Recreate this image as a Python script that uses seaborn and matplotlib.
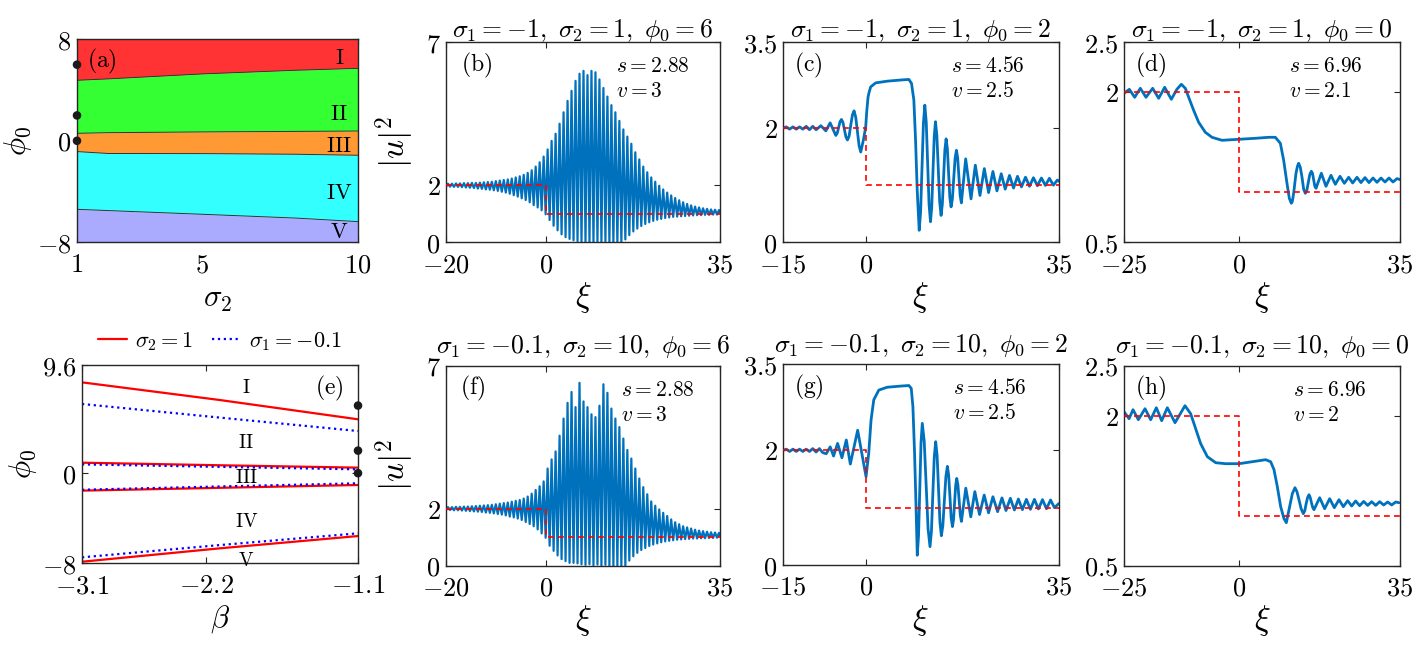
import numpy as np
import pandas as pd
import matplotlib
matplotlib.use("Agg")
import matplotlib.pyplot as plt
import seaborn as sns

# ---------------- data ----------------
# (a) phase diagram boundaries vs sigma2
a_sigma2 = [1, 2, 5, 8, 10]
a_b1 = [4.77, 4.88, 5.27, 5.56, 5.71]      # I / II
a_b2 = [0.59, 0.64, 0.70, 0.74, 0.77]      # II / III
a_b3 = [-0.85, -1.00, -1.01, -1.06, -1.14]  # III / IV
a_b4 = [-5.40, -5.50, -5.79, -6.09, -6.37]  # IV / V
a_dots_phi = [6, 2, 0]
region_names = ["I", "II", "III", "IV", "V"]
a_label_phi = [6.56, 2.15, -0.41, -4.11, -7.18]

# (e) boundaries vs beta
e_beta = [-3.1, -2.1, -1.1]
e_red = [[8.06, 6.49, 4.78], [0.93, 0.70, 0.49], [-1.55, -1.30, -1.05], [-7.86, -6.67, -5.58]]
e_blue = [[6.14, 4.93, 3.74], [0.78, 0.56, 0.34], [-1.47, -1.18, -0.90], [-7.47, -6.38, -5.34]]
e_dots_phi = [6, 2, 0]
e_label_phi = [7.53, 2.65, -0.40, -4.30, -7.77]

# (b),(f) dense oscillation extrema
bf_xi = [-20.0, -19.6, -19.2, -18.8, -18.4, -18.0, -17.6, -17.2, -16.8, -16.4,
         -16.0, -15.6, -15.2, -14.8, -14.4, -14.0, -13.6, -13.2, -12.8, -12.4,
         -12.0, -11.6, -11.2, -10.8, -10.4, -10.0, -9.6, -9.2, -8.8, -8.4,
         -8.0, -7.6, -7.2, -6.8, -6.4, -6.0, -5.6, -5.2, -4.8, -4.4,
         -4.0, -3.6, -3.2, -2.8, -2.4, -2.0, -1.6, -1.2, -0.8, -0.4,
         0.0, 0.4, 0.8, 1.2, 1.6, 2.0, 2.4, 2.8, 3.2, 3.6,
         4.0, 4.4, 4.8, 5.2, 5.6, 6.0, 6.4, 6.8, 7.2, 7.6,
         8.0, 8.4, 8.8, 9.2, 9.6, 10.0, 10.4, 10.8, 11.2, 11.6,
         12.0, 12.4, 12.8, 13.2, 13.6, 14.0, 14.4, 14.8, 15.2, 15.6,
         16.0, 16.4, 16.8, 17.2, 17.6, 18.0, 18.4, 18.8, 19.2, 19.6,
         20.0, 20.4, 20.8, 21.2, 21.6, 22.0, 22.4, 22.8, 23.2, 23.6,
         24.0, 24.4, 24.8, 25.2, 25.6, 26.0, 26.4, 26.8, 27.2, 27.6,
         28.0, 28.4, 28.8, 29.2, 29.6, 30.0, 30.4, 30.8, 31.2, 31.6,
         32.0, 32.4, 32.8, 33.2, 33.6, 34.0, 34.4, 34.8, 35.0]
b_u = [1.95, 2.05, 1.95, 2.05, 1.94, 2.06, 1.94, 2.06, 1.93, 2.07,
       1.92, 2.07, 1.91, 2.08, 1.90, 2.08, 1.88, 2.09, 1.87, 2.10,
       1.85, 2.11, 1.84, 2.12, 1.82, 2.14, 1.80, 2.16, 1.77, 2.18,
       1.74, 2.20, 1.70, 2.23, 1.65, 2.27, 1.60, 2.31, 1.54, 2.36,
       1.48, 2.43, 1.40, 2.52, 1.30, 2.65, 1.22, 2.80, 1.12, 3.00,
       0.98, 3.25, 0.78, 3.55, 0.58, 3.80, 0.42, 4.15, 0.28, 4.55,
       0.18, 4.95, 0.12, 5.30, 0.07, 5.65, 0.04, 5.90, 0.02, 6.00,
       0.00, 5.85, 0.01, 6.00, 0.00, 5.95, 0.02, 5.70, 0.01, 5.40,
       0.03, 5.10, 0.00, 4.80, 0.00, 4.55, 0.00, 4.25, 0.02, 3.95,
       0.10, 3.70, 0.25, 3.45, 0.38, 3.15, 0.48, 2.90, 0.57, 2.65,
       0.64, 2.45, 0.70, 2.27, 0.75, 2.12, 0.79, 1.98, 0.82, 1.85,
       0.85, 1.74, 0.87, 1.64, 0.89, 1.55, 0.90, 1.47, 0.91, 1.40,
       0.92, 1.34, 0.93, 1.29, 0.94, 1.25, 0.95, 1.22, 0.95, 1.19,
       0.96, 1.17, 0.96, 1.15, 0.97, 1.14, 0.97, 1.13, 1.02]
f_u = [1.95, 2.05, 1.95, 2.05, 1.94, 2.06, 1.94, 2.06, 1.93, 2.07,
       1.92, 2.07, 1.91, 2.08, 1.90, 2.09, 1.89, 2.10, 1.88, 2.11,
       1.86, 2.12, 1.85, 2.13, 1.83, 2.15, 1.81, 2.17, 1.79, 2.19,
       1.76, 2.21, 1.72, 2.24, 1.69, 2.27, 1.65, 2.30, 1.60, 2.35,
       1.53, 2.42, 1.46, 2.52, 1.38, 2.65, 1.27, 2.78, 1.13, 2.95,
       0.98, 3.40, 0.70, 3.72, 0.52, 4.00, 0.36, 4.55, 0.23, 5.15,
       0.16, 5.70, 0.10, 6.08, 0.10, 5.55, 0.08, 6.40, 0.05, 5.75,
       0.03, 5.55, 0.05, 5.30, 0.02, 5.20, 0.04, 5.60, 0.01, 6.35,
       0.03, 6.05, 0.00, 5.50, 0.00, 5.15, 0.00, 4.85, 0.00, 4.45,
       0.00, 4.05, 0.18, 3.75, 0.33, 3.40, 0.45, 3.05, 0.55, 2.75,
       0.62, 2.50, 0.69, 2.25, 0.74, 2.10, 0.78, 1.97, 0.82, 1.85,
       0.85, 1.74, 0.87, 1.62, 0.89, 1.52, 0.91, 1.45, 0.92, 1.38,
       0.93, 1.34, 0.94, 1.30, 0.95, 1.26, 0.95, 1.23, 0.96, 1.21,
       0.96, 1.19, 0.97, 1.17, 0.97, 1.16, 0.98, 1.15, 1.05]

# (c)
c_xi = [-15.0, -14.4, -13.8, -13.2, -12.6, -12.0, -11.4, -10.8, -10.2, -9.6, -9.0,
        -8.13, -7.23, -6.45, -5.42, -5.165, -4.91, -4.655, -4.40, -4.13, -3.855,
        -3.58, -3.31, -3.01, -2.71, -2.41, -2.11, -1.81, -1.505, -1.20, -0.90,
        -0.42, 0.0, 0.18, 0.42, 0.6, 0.90, 1.81, 3.92, 6.33, 7.83, 8.31, 8.73,
        9.04, 9.34, 9.70, 9.955, 10.21, 10.465, 10.72, 10.98, 11.235, 11.49,
        11.75, 11.975, 12.2, 12.425, 12.65, 12.905, 13.16, 13.415, 13.67, 13.90,
        14.125, 14.35, 14.58, 14.805, 15.03, 15.255, 15.48, 15.72, 15.965, 16.21,
        16.45, 16.675, 16.9, 17.125, 17.35, 18.13, 19.10,
        19.88, 20.72, 21.51, 22.29, 23.07, 23.80, 24.58, 25.30, 26.08, 26.81,
        27.53, 28.25, 28.98, 29.70, 30.42, 31.14, 31.87, 32.59, 33.31, 34.04,
        34.76, 35.0]
c_u = [2.00, 2.02, 1.98, 2.02, 1.98, 2.02, 1.98, 2.03, 1.97, 2.03, 1.97,
       2.04, 1.95, 2.09, 1.87, 1.91, 2.01, 2.11, 2.15, 2.10, 1.97,
       1.84, 1.79, 1.86, 2.05, 2.23, 2.30, 2.19, 1.94, 1.69, 1.58,
       1.79, 2.02, 2.28, 2.54, 2.62, 2.72, 2.79, 2.82, 2.84, 2.85, 2.78, 2.49,
       1.79, 0.91, 0.21, 0.53, 1.31, 2.08, 2.40, 2.10, 1.38, 0.66,
       0.36, 0.62, 1.24, 1.85, 2.11, 1.87, 1.29, 0.71, 0.47, 0.67,
       1.14, 1.61, 1.81, 1.64, 1.22, 0.79, 0.62, 0.76, 1.12, 1.47,
       1.61, 1.48, 1.15, 0.82, 0.69, 1.46, 0.76,
       1.35, 0.82, 1.29, 0.87, 1.24, 0.90, 1.20, 0.93, 1.17, 0.95,
       1.155, 0.97, 1.14, 0.98, 1.13, 0.99, 1.125, 0.995, 1.12, 1.00,
       1.09, 1.07]

# (d)
d_xi = [-25.0, -23.84, -22.68, -21.45, -20.22, -18.77, -17.46, -16.16, -14.71,
        -13.5, -12.54, -11.67, -10.94, -9.86, -8.77, -7.32, -5.87, -3.70, -0.07,
        3.55, 6.45, 7.90, 8.99, 9.71, 10.43, 10.94, 11.38, 11.6, 11.88, 12.39,
        12.7, 12.97, 13.33, 13.70, 14.06, 14.42, 14.75, 15.07, 15.4, 15.72,
        15.98, 16.23, 16.49, 16.74, 17.90, 18.91, 20.0, 20.94, 21.96, 22.90,
        23.84, 24.71, 25.65, 26.52, 27.39, 28.26, 29.13, 30.0, 30.87, 31.74,
        32.61, 33.48, 34.35, 35.0]
d_u = [1.99, 2.03, 1.95, 2.04, 1.95, 2.04, 1.94, 2.05, 1.93,
       2.03, 2.08, 2.04, 1.95, 1.82, 1.70, 1.60, 1.55, 1.52, 1.53,
       1.54, 1.55, 1.55, 1.49, 1.32, 1.09, 0.94, 0.89, 0.91, 0.99, 1.19,
       1.26, 1.29, 1.25, 1.15, 1.03, 0.99, 1.02, 1.10, 1.18, 1.21,
       1.19, 1.125, 1.06, 1.04, 1.19, 1.06, 1.17, 1.08, 1.16, 1.09,
       1.15, 1.093, 1.15, 1.097, 1.147, 1.097, 1.143, 1.10, 1.143, 1.103,
       1.143, 1.103, 1.137, 1.127]

# (g)
g_xi = [-15.0, -14.4, -13.8, -13.2, -12.6, -12.0, -11.4, -10.8, -10.2, -9.6, -9.0,
        -8.4, -7.8, -7.16, -6.44, -5.83, -5.10, -4.31, -3.52, -2.79, -1.46, 0.06,
        0.55, 0.97, 1.46, 2.37, 3.89, 6.31, 7.83, 8.26, 8.56, 8.86, 9.11, 9.35,
        9.58, 9.805, 10.03, 10.26, 10.61, 10.96, 11.31, 11.66, 11.92, 12.175,
        12.43, 12.69, 12.95, 13.205, 13.46, 13.72, 13.99, 14.265, 14.54, 14.81,
        15.04, 15.27, 15.5, 15.73, 15.925, 16.12, 16.315, 16.51, 16.72, 16.935,
        17.15, 17.36, 18.15, 19.06,
        19.79, 20.64, 21.49, 22.28, 23.07, 23.92, 24.71, 25.44, 26.23, 26.96,
        27.69, 28.42, 29.14, 29.87, 30.60, 31.33, 32.06, 32.79, 33.52, 34.24, 35.0]
g_u = [2.00, 2.02, 1.98, 2.02, 1.98, 2.02, 1.98, 2.02, 1.98, 2.03, 1.97,
       2.03, 1.96, 1.94, 2.06, 1.90, 2.12, 1.87, 2.18, 1.76, 2.35, 1.54,
       1.95, 2.53, 2.88, 3.05, 3.10, 3.12, 3.13, 3.08, 2.76, 1.95, 1.08, 0.17,
       0.51, 1.32, 2.13, 2.47, 2.16, 1.40, 0.63, 0.32, 0.59, 1.24,
       1.88, 2.15, 1.91, 1.33, 0.75, 0.51, 0.69, 1.12, 1.54, 1.72,
       1.57, 1.20, 0.82, 0.67, 0.79, 1.09, 1.39, 1.51, 1.40, 1.14,
       0.87, 0.76, 1.34, 0.84,
       1.28, 0.88, 1.22, 0.91, 1.19, 0.93, 1.17, 0.95, 1.163, 0.96,
       1.151, 0.965, 1.145, 0.971, 1.145, 0.977, 1.14, 0.98, 1.134, 1.00, 1.07]

# (h)
h_xi = [-25.0, -23.9, -23.04, -21.88, -20.43, -19.20, -17.97, -16.81, -15.58,
        -13.91, -11.74, -10.51, -9.42, -8.33, -6.88, -5.07, -2.90, 0.0, 2.90,
        5.80, 6.88, 7.61, 8.33, 9.06, 9.78, 10.29, 10.87, 11.59, 12.17, 12.6,
        13.04, 13.5, 13.99, 14.3, 14.6, 14.9, 15.22, 15.5, 15.8, 16.05, 16.30,
        17.54, 18.62, 19.71, 20.72, 21.74, 22.68, 23.62,
        24.49, 25.36, 26.23, 27.10, 27.97, 28.84, 29.71, 30.58, 31.45, 32.32,
        33.19, 34.06, 34.78]
h_u = [2.04, 1.97, 2.06, 1.96, 2.07, 1.96, 2.08, 1.95, 2.08,
       1.93, 2.10, 2.02, 1.87, 1.72, 1.59, 1.53, 1.52, 1.52, 1.54,
       1.56, 1.54, 1.46, 1.29, 1.09, 0.97, 0.93, 1.06, 1.22, 1.28, 1.24,
       1.16, 1.07, 1.02, 1.05, 1.12, 1.18, 1.21, 1.18, 1.12, 1.08, 1.06,
       1.18, 1.07, 1.17, 1.08, 1.16, 1.09, 1.15,
       1.097, 1.147, 1.10, 1.143, 1.103, 1.14, 1.103, 1.14, 1.107, 1.137,
       1.107, 1.137, 1.13]

# initial step profiles (dashed)
step_b = ([-20, 0, 0, 35], [2, 2, 1, 1])
step_c = ([-15, 0, 0, 35], [2, 2, 1, 1])
step_d = ([-25, 0, 0, 35], [2, 2, 1, 1])

titles_top = [r"$\sigma_1=-1,\ \sigma_2=1,\ \phi_0=6$",
              r"$\sigma_1=-1,\ \sigma_2=1,\ \phi_0=2$",
              r"$\sigma_1=-1,\ \sigma_2=1,\ \phi_0=0$"]
titles_bot = [r"$\sigma_1=-0.1,\ \sigma_2=10,\ \phi_0=6$",
              r"$\sigma_1=-0.1,\ \sigma_2=10,\ \phi_0=2$",
              r"$\sigma_1=-0.1,\ \sigma_2=10,\ \phi_0=0$"]
s_vals = ["2.88", "4.56", "6.96"]
v_top = ["3", "2.5", "2.1"]
v_bot = ["3", "2.5", "2"]

# ---------------- style ----------------
sns.set_theme(style="ticks")
plt.rcParams.update({
    "font.family": ["DejaVu Serif"],
    "mathtext.fontset": "cm",
    "axes.edgecolor": "#262626",
    "axes.linewidth": 1.0,
    "text.color": "black",
    "axes.labelcolor": "black",
    "xtick.color": "#262626",
    "ytick.color": "#262626",
    "xtick.labelcolor": "black",
    "ytick.labelcolor": "black",
})

W, H = 1418, 647
fig = plt.figure(figsize=(W / 100, H / 100), dpi=100)


def add_ax(l, r, t, b):
    return fig.add_axes([l / W, 1 - b / H, (r - l) / W, (b - t) / H])


def style(ax, xlim, ylim, xt, yt, tick_fs=19):
    ax.set_xlim(xlim)
    ax.set_ylim(ylim)
    ax.set_xticks(xt, [f"${t:g}$" for t in xt])
    ax.set_yticks(yt, [f"${t:g}$" for t in yt])
    ax.tick_params(direction="in", top=True, right=True, length=4, width=0.8,
                   labelsize=tick_fs)
    ax.tick_params(axis="x", pad=7)
    ax.tick_params(axis="y", pad=4)
    for s in ax.spines.values():
        s.set_linewidth(1.0)
        s.set_color("#262626")


BLUE = "#0072BD"
LBL = 24
ANN = 15.5
TTL = 18.5
PNL = 17

# ---------------- (a) ----------------
ax = add_ax(77, 358, 39.3, 242.3)
fills = [(a_b1, [8] * 5, "#FF3333"), (a_b2, a_b1, "#33FF33"), (a_b3, a_b2, "#FF9933"),
         (a_b4, a_b3, "#33FFFF"), ([-8] * 5, a_b4, "#AAAAFF")]
for lo, hi, col in fills:
    ax.fill_between(a_sigma2, lo, hi, color=col, lw=0)
for bnd in (a_b1, a_b2, a_b3, a_b4):
    sns.lineplot(x=a_sigma2, y=bnd, ax=ax, color="#333333", lw=0.7,
                 estimator=None, sort=False)
sns.scatterplot(x=[1] * 3, y=a_dots_phi, ax=ax, color="k", s=38, zorder=6,
                clip_on=False, edgecolor="none")
for name, yv in zip(region_names, a_label_phi):
    ax.text(9.4, yv, rf"$\mathrm{{{name}}}$", ha="center", va="center", fontsize=16)
ax.text(0.036, 0.89, r"$\mathrm{(a)}$", transform=ax.transAxes, ha="left",
        va="center", fontsize=PNL)
style(ax, (1, 10), (-8, 8), [1, 5, 10], [-8, 0, 8])
ax.set_xlabel(r"$\sigma_2$", fontsize=22, labelpad=4)
ax.set_ylabel(r"$\phi_0$", fontsize=22, labelpad=2)

# ---------------- (e) ----------------
ax = add_ax(82, 358, 365, 563.3)
for i, (r, bl) in enumerate(zip(e_red, e_blue)):
    sns.lineplot(x=e_beta, y=r, ax=ax, color="red", lw=1.6, estimator=None, sort=False,
                 label=r"$\sigma_2=1$" if i == 0 else None)
    sns.lineplot(x=e_beta, y=bl, ax=ax, color="blue", lw=1.6, linestyle=":",
                 estimator=None, sort=False,
                 label=r"$\sigma_1=-0.1$" if i == 0 else None)
sns.scatterplot(x=[-1.1] * 3, y=e_dots_phi, ax=ax, color="k", s=38, zorder=6,
                clip_on=False, edgecolor="none")
for name, yv in zip(region_names, e_label_phi):
    ax.text(-1.91, yv, rf"$\mathrm{{{name}}}$", ha="center", va="center", fontsize=14)
ax.text(0.845, 0.88, r"$\mathrm{(e)}$", transform=ax.transAxes, ha="left",
        va="center", fontsize=PNL)
style(ax, (-3.1, -1.1), (-8, 9.6), [-3.1, -2.2, -1.1], [-8, 0, 9.6])
ax.set_xlabel(r"$\beta$", fontsize=22, labelpad=4)
ax.set_ylabel(r"$\phi_0$", fontsize=22, labelpad=2)
ax.legend(loc="lower center", bbox_to_anchor=(0.5, 1.0), ncol=2, frameon=False,
          fontsize=16, handlelength=1.3, columnspacing=0.8, handletextpad=0.4,
          borderaxespad=0.15)

# ---------------- wave panels ----------------
panels = [
    (446, 720, 42.3, 242.3, bf_xi, b_u, step_b, (-20, 35), (0, 7), [0, 2, 7],
     titles_top[0], "(b)", s_vals[0], v_top[0], 0.62, 0.054, True, 1.6, 4),
    (783, 1058.7, 42.3, 242.3, c_xi, c_u, step_c, (-15, 35), (0, 3.5), [0, 2, 3.5],
     titles_top[1], "(c)", s_vals[1], v_top[1], 0.611, 0.041, False, 2.0, 4),
    (1124, 1400, 42.3, 242.3, d_xi, d_u, step_d, (-25, 35), (0.5, 2.5), [0.5, 2, 2.5],
     titles_top[2], "(d)", s_vals[2], v_top[2], 0.597, 0.041, False, 2.0, 4),
    (446, 720, 365.7, 565.7, bf_xi, f_u, step_b, (-20, 35), (0, 7), [0, 2, 7],
     titles_bot[0], "(f)", s_vals[0], v_bot[0], 0.64, 0.05, True, 1.6, 9),
    (783, 1058.7, 364.3, 565, g_xi, g_u, step_c, (-15, 35), (0, 3.5), [0, 2, 3.5],
     titles_bot[1], "(g)", s_vals[1], v_bot[1], 0.618, 0.041, False, 2.0, 9),
    (1124, 1400, 365.7, 565.7, h_xi, h_u, step_d, (-25, 35), (0.5, 2.5), [0.5, 2, 2.5],
     titles_bot[2], "(h)", s_vals[2], v_bot[2], 0.612, 0.041, False, 2.0, 9),
]
for (l, r, t, b, xi, u, step, xlim, ylim, yt, title, lab, s, v, sx, lx, ylab, lw,
     tpad) in panels:
    ax = add_ax(l, r, t, b)
    sns.lineplot(x=xi, y=u, ax=ax, color=BLUE, lw=lw, estimator=None, sort=False)
    sns.lineplot(x=step[0], y=step[1], ax=ax, color="red", lw=1.2,
                 linestyle=(0, (3.5, 2.5)), estimator=None, sort=False, zorder=3)
    style(ax, xlim, ylim, [xlim[0], 0, xlim[1]], yt)
    ax.set_title(title, fontsize=TTL, pad=tpad)
    ax.text(lx, 0.885, rf"$\mathrm{{{lab}}}$", transform=ax.transAxes, ha="left",
            va="center", fontsize=PNL)
    ax.text(sx, 0.88, rf"$s={s}$", transform=ax.transAxes, ha="left", va="center",
            fontsize=ANN)
    ax.text(sx, 0.755, rf"$v={v}$", transform=ax.transAxes, ha="left", va="center",
            fontsize=ANN)
    ax.set_xlabel(r"$\xi$", fontsize=LBL, labelpad=2)
    if ylab:
        ax.set_ylabel(r"$|u|^2$", fontsize=LBL, labelpad=6)

fig.savefig("out.png", dpi=100)
